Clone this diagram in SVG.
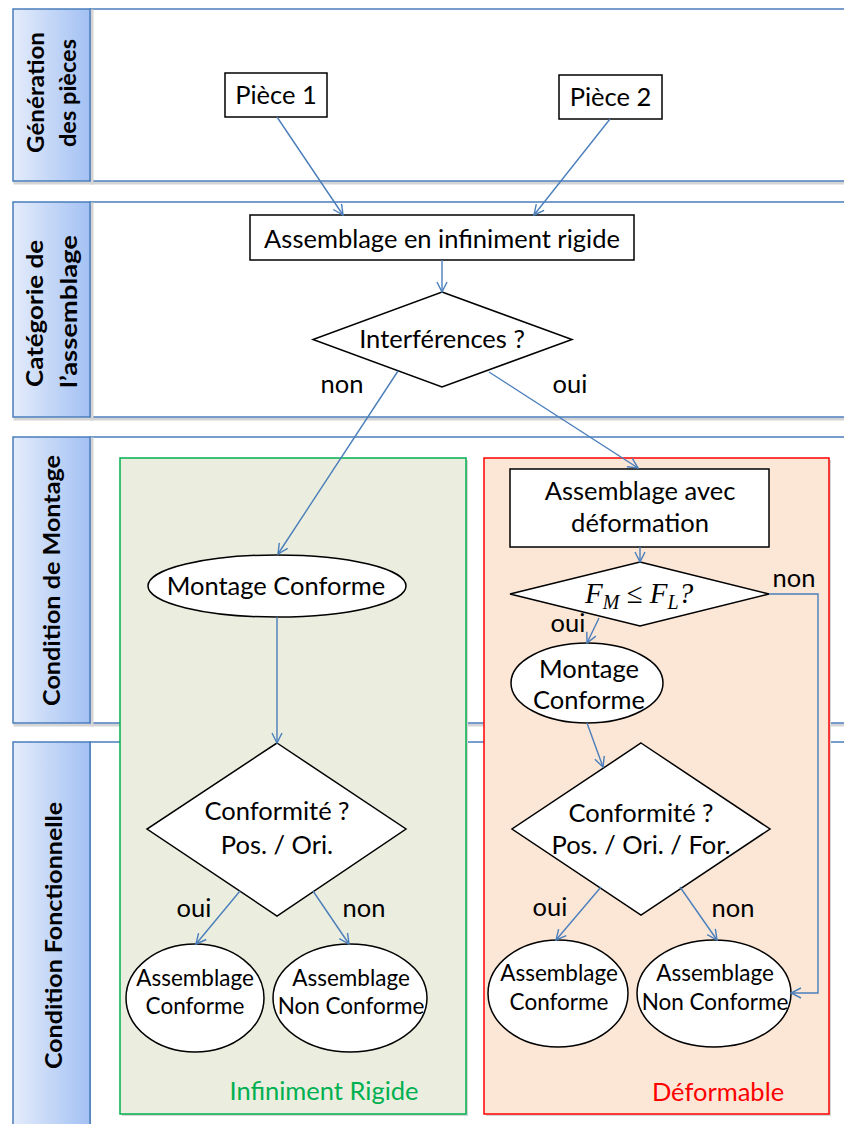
<svg xmlns="http://www.w3.org/2000/svg" width="844" height="1124" viewBox="0 0 844 1124">
<defs>
<linearGradient id="hdr" x1="0" y1="0" x2="1" y2="0">
<stop offset="0" stop-color="#e4ecfb"/>
<stop offset="1" stop-color="#a3c1f3"/>
</linearGradient>
<marker id="arr" viewBox="0 0 12 12" refX="11" refY="6" markerWidth="12" markerHeight="12" markerUnits="userSpaceOnUse" orient="auto">
<path d="M1,1 L11,6 L1,11" fill="none" stroke="#4a7ebb" stroke-width="1.4"/>
</marker>
</defs>
<style>
.lane{fill:#ffffff;stroke:#4a7ebb;stroke-width:1.5}
.shadow{fill:none;stroke:#d4d4d4;stroke-width:3}
.hdr{fill:url(#hdr);stroke:#4a7ebb;stroke-width:1.5}
.ht{font-family:Lato,"Liberation Sans",sans-serif;font-weight:bold;font-size:23px;fill:#000;text-anchor:middle}
.node{fill:#ffffff;stroke:#000;stroke-width:1.5}
.t{font-family:Lato,"Liberation Sans",sans-serif;font-size:25.5px;fill:#000;text-anchor:middle}
.ts{font-family:Lato,"Liberation Sans",sans-serif;font-size:22.5px;fill:#000;text-anchor:middle}
.math{font-family:"Liberation Serif",serif;font-style:italic;font-size:29px;fill:#000}
.c{fill:none;stroke:#4a7ebb;stroke-width:1.4;marker-end:url(#arr)}
</style>

<g id="lanes">
<line class="shadow" x1="90" y1="183" x2="844" y2="183"/>
<rect class="lane" x="90" y="9" width="800" height="172"/>
<line class="shadow" x1="90" y1="419" x2="844" y2="419"/>
<rect class="lane" x="90" y="202" width="800" height="215"/>
<line class="shadow" x1="90" y1="725" x2="844" y2="725"/>
<rect class="lane" x="90" y="437" width="800" height="286"/>
<rect class="lane" x="90" y="742" width="800" height="420"/>
<rect class="shadow" x="15" y="11" width="77" height="172" stroke-width="2"/>
<rect class="hdr" x="13" y="9" width="77" height="172"/>
<rect class="shadow" x="15" y="204" width="77" height="215" stroke-width="2"/>
<rect class="hdr" x="13" y="202" width="77" height="215"/>
<rect class="shadow" x="15" y="439" width="77" height="286" stroke-width="2"/>
<rect class="hdr" x="13" y="437" width="77" height="286"/>
<rect class="hdr" x="13" y="742" width="77" height="420"/>
<text class="ht" transform="translate(44,92.5) rotate(-90)" textLength="121" lengthAdjust="spacingAndGlyphs">Génération</text>
<text class="ht" transform="translate(76,93) rotate(-90)" textLength="108" lengthAdjust="spacingAndGlyphs">des pièces</text>
<text class="ht" transform="translate(43,313.5) rotate(-90)" textLength="147" lengthAdjust="spacingAndGlyphs">Catégorie de</text>
<text class="ht" transform="translate(77,311.5) rotate(-90)" textLength="153" lengthAdjust="spacingAndGlyphs">l’assemblage</text>
<text class="ht" transform="translate(60,580.5) rotate(-90)" textLength="251" lengthAdjust="spacingAndGlyphs">Condition de Montage</text>
<text class="ht" transform="translate(62,935.5) rotate(-90)" textLength="267" lengthAdjust="spacingAndGlyphs">Condition Fonctionnelle</text>
</g>

<g id="zone-rigide">
<rect x="122" y="460" width="346" height="656" fill="#d6d6d6"/>
<rect x="120" y="458" width="346" height="656" fill="#ebeedf" stroke="#00b050" stroke-width="1.5"/>
<text x="324" y="1100" font-family="Lato,'Liberation Sans',sans-serif" font-size="25.5px" fill="#00b050" text-anchor="middle">Infiniment Rigide</text>
</g>
<g id="zone-deformable">
<rect x="486" y="460" width="345" height="656" fill="#d6d6d6"/>
<rect x="484" y="458" width="345" height="656" fill="#fce7d7" stroke="#ff0000" stroke-width="1.5"/>
<text x="718" y="1101" font-family="Lato,'Liberation Sans',sans-serif" font-size="25.5px" fill="#ff0000" text-anchor="middle">Déformable</text>
</g>

<g id="piece1">
<rect class="node" x="225" y="73" width="102" height="44"/>
<text class="t" x="276" y="104">Pièce 1</text>
</g>
<g id="piece2">
<rect class="node" x="559" y="75" width="103" height="44"/>
<text class="t" x="610.5" y="106">Pièce 2</text>
</g>
<g id="assemblage-rigide">
<rect class="node" x="250" y="215" width="384" height="45"/>
<text class="t" x="442" y="248">Assemblage en infiniment rigide</text>
</g>
<g id="interferences">
<polygon class="node" points="442,292 572,339.5 442,387 313,339.5"/>
<text class="t" x="442" y="348">Interférences ?</text>
</g>
<g id="montage-rigide">
<ellipse class="node" cx="277" cy="586" rx="129" ry="31"/>
<text class="t" x="276" y="595">Montage Conforme</text>
</g>
<g id="conformite-rigide">
<polygon class="node" points="277,743 406,829 277,916 147,829"/>
<text class="t" x="277" y="820">Conformité ?</text>
<text class="t" x="277" y="854">Pos. / Ori.</text>
</g>
<g id="assemblage-conforme-rigide">
<ellipse class="node" cx="195" cy="998" rx="69" ry="54"/>
<text class="ts" x="195" y="986">Assemblage</text>
<text class="ts" x="195" y="1014">Conforme</text>
</g>
<g id="assemblage-nonconforme-rigide">
<ellipse class="node" cx="350" cy="998" rx="77" ry="54"/>
<text class="ts" x="351" y="986">Assemblage</text>
<text class="ts" x="351" y="1014">Non Conforme</text>
</g>
<g id="assemblage-deformation">
<rect class="node" x="510" y="469" width="259" height="78"/>
<text class="t" x="640" y="500">Assemblage avec</text>
<text class="t" x="640" y="532">déformation</text>
</g>
<g id="force">
<polygon class="node" points="640,562 769,594 640,626 510,594"/>
<text class="math" x="585" y="603">F<tspan font-size="20px" dy="6">M</tspan><tspan dy="-6" font-style="normal"> ≤ </tspan>F<tspan font-size="20px" dy="6">L</tspan><tspan dy="-6">?</tspan></text>
</g>
<g id="montage-deformable">
<ellipse class="node" cx="587" cy="683" rx="76" ry="40"/>
<text class="t" x="589" y="678">Montage</text>
<text class="t" x="589" y="709">Conforme</text>
</g>
<g id="conformite-deformable">
<polygon class="node" points="641,743 770,829 641,915 512,829"/>
<text class="t" x="641" y="822">Conformité ?</text>
<text class="t" x="641" y="854">Pos. / Ori. / For.</text>
</g>
<g id="assemblage-conforme-deformable">
<ellipse class="node" cx="558" cy="993.5" rx="70" ry="53.5"/>
<text class="ts" x="559" y="981">Assemblage</text>
<text class="ts" x="559" y="1010">Conforme</text>
</g>
<g id="assemblage-nonconforme-deformable">
<ellipse class="node" cx="714" cy="993.5" rx="77" ry="53.5"/>
<text class="ts" x="715" y="981">Assemblage</text>
<text class="ts" x="715" y="1010">Non Conforme</text>
</g>

<g id="connectors">
<line class="c" x1="277" y1="117" x2="343" y2="215"/>
<line class="c" x1="610" y1="119" x2="534" y2="215"/>
<line class="c" x1="442" y1="260" x2="442" y2="292"/>
<line class="c" x1="398" y1="371" x2="278" y2="554"/>
<line class="c" x1="489" y1="372" x2="638" y2="468"/>
<line class="c" x1="277" y1="617" x2="277" y2="743"/>
<line class="c" x1="240" y1="891" x2="196" y2="944"/>
<line class="c" x1="313" y1="891" x2="349" y2="944"/>
<line class="c" x1="640" y1="547" x2="640" y2="562"/>
<polyline class="c" points="769,594 818,594 818,993 791,993"/>
<line class="c" x1="599" y1="618" x2="587" y2="643"/>
<line class="c" x1="587" y1="723" x2="603" y2="767"/>
<line class="c" x1="601" y1="887" x2="556" y2="940"/>
<line class="c" x1="680" y1="887" x2="717" y2="940"/>
</g>
<g id="labels">
<text class="t" x="342" y="393">non</text>
<text class="t" x="570" y="393">oui</text>
<text class="t" x="794" y="587">non</text>
<text class="t" x="568" y="632">oui</text>
<text class="t" x="194" y="917">oui</text>
<text class="t" x="364" y="917">non</text>
<text class="t" x="550" y="916">oui</text>
<text class="t" x="733" y="917">non</text>
</g>
</svg>
